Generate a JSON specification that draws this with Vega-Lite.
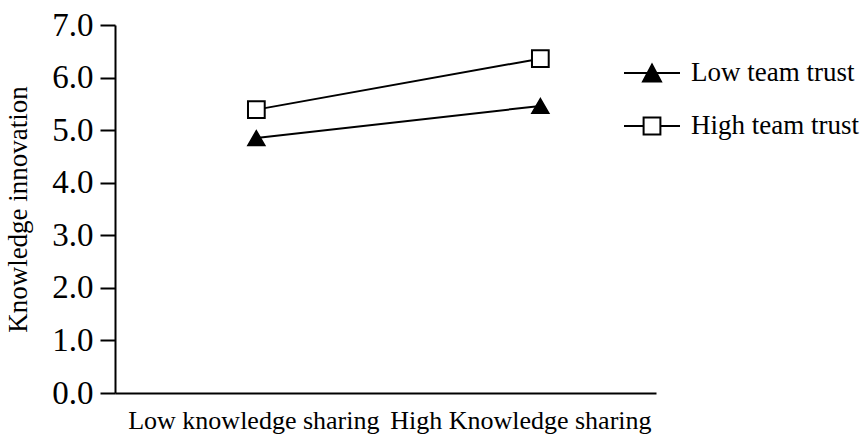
{
  "$schema": "https://vega.github.io/schema/vega-lite/v6.json",
  "width": 541,
  "height": 368,
  "autosize": "none",
  "padding": {"left": 115, "top": 25, "right": 210, "bottom": 49},
  "background": "white",
  "config": {
    "view": {"stroke": null},
    "font": "Liberation Serif",
    "axis": {
      "grid": false,
      "domainColor": "black",
      "domainWidth": 2,
      "tickColor": "black",
      "tickWidth": 2,
      "labelColor": "black",
      "titleColor": "black",
      "labelFont": "Liberation Serif",
      "titleFont": "Liberation Serif"
    },
    "legend": {"labelFont": "Liberation Serif", "labelColor": "black"}
  },
  "data": {
    "values": [
      {"sharing": "Low knowledge sharing", "trust": "Low team trust", "value": 4.85},
      {"sharing": "High Knowledge sharing", "trust": "Low team trust", "value": 5.46},
      {"sharing": "Low knowledge sharing", "trust": "High team trust", "value": 5.39},
      {"sharing": "High Knowledge sharing", "trust": "High team trust", "value": 6.36}
    ]
  },
  "encoding": {
    "x": {
      "field": "sharing",
      "type": "ordinal",
      "sort": ["Low knowledge sharing", "High Knowledge sharing"],
      "scale": {"type": "point", "padding": 0.4525, "align": 0.55},
      "axis": {
        "title": null,
        "labelAngle": 0,
        "ticks": false,
        "labelFontSize": 26,
        "labelPadding": 14,
        "labelLimit": 0,
        "labelOffset": {"condition": {"test": "datum.value === 'High Knowledge sharing'", "value": -20}, "value": -3}
      }
    },
    "y": {
      "field": "value",
      "type": "quantitative",
      "scale": {"domain": [0, 7]},
      "axis": {
        "values": [0, 1, 2, 3, 4, 5, 6, 7],
        "format": ".1f",
        "title": "Knowledge innovation",
        "titleFontSize": 27,
        "titleFontWeight": "normal",
        "labelFontSize": 33,
        "tickSize": 15,
        "labelPadding": 7,
        "titleX": -83,
        "titleY": 184
      }
    }
  },
  "layer": [
    {
      "mark": {"type": "line", "strokeWidth": 2, "color": "black"},
      "encoding": {"detail": {"field": "trust", "type": "nominal"}}
    },
    {
      "transform": [{"filter": "datum.trust === 'Low team trust'"}],
      "mark": {"type": "point", "shape": "triangle-up", "filled": true, "size": 290, "fill": "black", "stroke": "black", "strokeWidth": 1.5, "opacity": 1}
    },
    {
      "transform": [{"filter": "datum.trust === 'High team trust'"}],
      "mark": {"type": "point", "shape": "square", "filled": true, "size": 280, "fill": "white", "stroke": "black", "strokeWidth": 2, "opacity": 1}
    },
    {
      "mark": {"type": "point", "filled": true, "opacity": 0, "strokeWidth": 2, "size": 3136},
      "encoding": {
        "shape": {
          "field": "trust",
          "type": "nominal",
          "scale": {
            "domain": ["Low team trust", "High team trust"],
            "range": ["M-1,0H1M-0.32,0.3L0,-0.3L0.32,0.3Z", "M-1,0H-0.3M0.3,0H1M-0.3,-0.3H0.3V0.3H-0.3Z"]
          },
          "legend": {
            "orient": "none",
            "legendX": 508,
            "legendY": 19,
            "title": null,
            "symbolSize": 3136,
            "symbolOpacity": 1,
            "symbolStrokeWidth": 2,
            "labelFontSize": 27,
            "labelLimit": 0,
            "labelOffset": 10,
            "rowPadding": 11
          }
        },
        "fill": {
          "field": "trust",
          "type": "nominal",
          "scale": {"domain": ["Low team trust", "High team trust"], "range": ["black", "white"]},
          "legend": {
            "orient": "none",
            "legendX": 508,
            "legendY": 19,
            "title": null,
            "symbolSize": 3136,
            "symbolOpacity": 1,
            "symbolStrokeWidth": 2,
            "labelFontSize": 27,
            "labelLimit": 0,
            "labelOffset": 10,
            "rowPadding": 11
          }
        },
        "stroke": {
          "field": "trust",
          "type": "nominal",
          "scale": {"domain": ["Low team trust", "High team trust"], "range": ["black", "black"]},
          "legend": {
            "orient": "none",
            "legendX": 508,
            "legendY": 19,
            "title": null,
            "symbolSize": 3136,
            "symbolOpacity": 1,
            "symbolStrokeWidth": 2,
            "labelFontSize": 27,
            "labelLimit": 0,
            "labelOffset": 10,
            "rowPadding": 11
          }
        }
      }
    }
  ]
}
